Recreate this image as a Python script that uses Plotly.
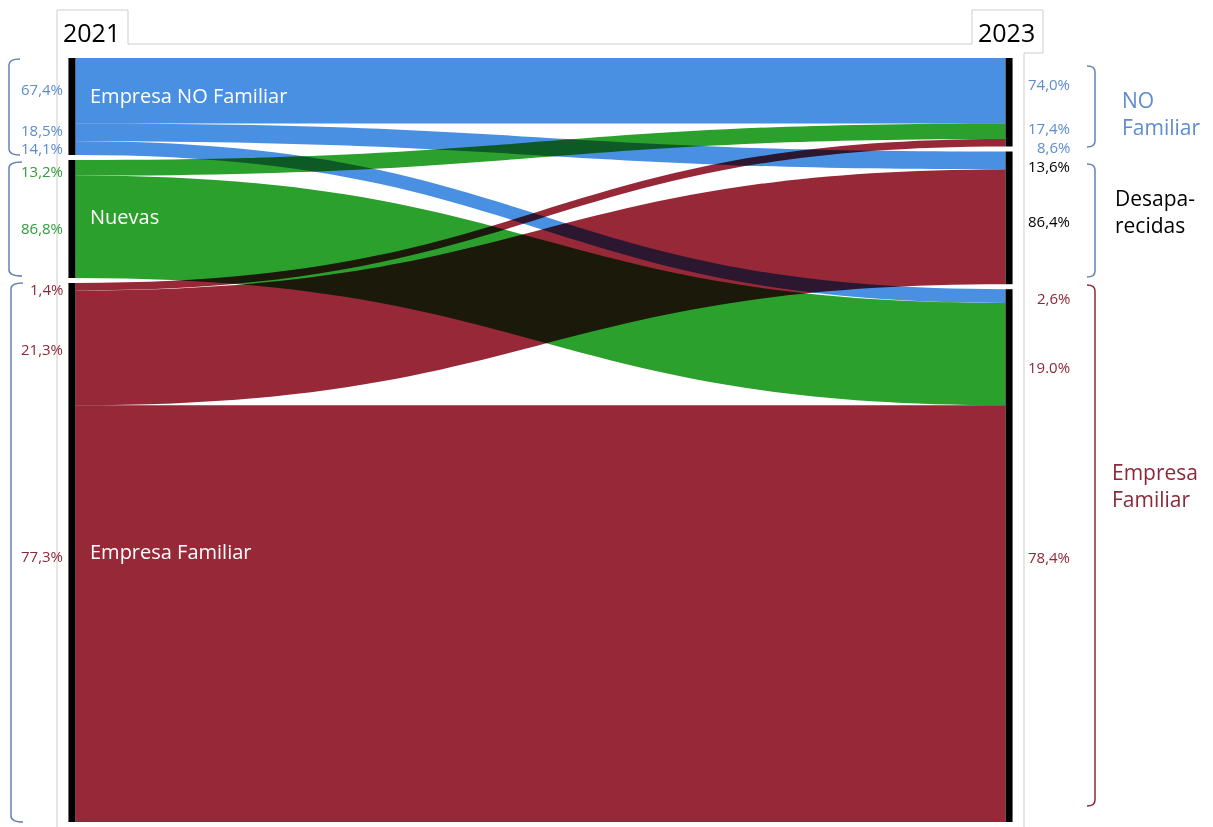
import plotly.graph_objects as go

W, H = 1213, 827

# ---------------- data ----------------
node_names = ["Empresa NO Familiar", "Nuevas", "Empresa Familiar",
              "NO Familiar", "Desaparecidas", "Empresa Familiar 2023"]
link_source = [0, 0, 0, 1, 1, 2, 2, 2]
link_target = [3, 4, 5, 3, 5, 3, 4, 5]
link_value = [65.4, 17.9, 13.7, 15.6, 102.4, 7.5, 114.8, 416.7]

left_pct_labels = ["67,4%", "18,5%", "14,1%", "13,2%", "86,8%", "1,4%", "21,3%", "77,3%"]
right_pct_labels = ["74,0%", "17,4%", "8,6%", "13,6%", "86,4%", "2,6%", "19.0%", "78,4%"]
year_labels = ["2021", "2023"]
group_labels = ["NO<br>Familiar", "Desapa-<br>recidas", "Empresa<br>Familiar"]

# ---------------- styles ----------------
BLUE = "rgb(74,144,226)"
GREEN = "rgb(44,160,44)"
RED = "rgb(150,40,55)"
src_colors = [BLUE, GREEN, RED]
link_colors = [src_colors[s] for s in link_source]

TXT_BLUE = "rgb(95,140,205)"
TXT_GREEN = "rgb(50,155,60)"
TXT_RED = "rgb(140,40,55)"
BR_BLUE = "rgb(100,130,180)"

def px(x):
    return x / W

def py(y):
    return 1 - y / H

# sankey domain in pixels
dom_x0, dom_x1 = 71, 1010
dom_y0, dom_y1 = 58, 822
dom_h = dom_y1 - dom_y0
pad = 5

# node vertical centres (layout only)
in_tot = [0.0] * 6
out_tot = [0.0] * 6
for s, t, v in zip(link_source, link_target, link_value):
    out_tot[s] += v
    in_tot[t] += v
node_vals = [max(a, b) for a, b in zip(in_tot, out_tot)]
total = sum(node_vals[:3])
ky = (dom_h - 2 * pad) / total

def centres(vals):
    res, cur = [], 0.0
    for v in vals:
        h = v * ky
        res.append((cur + h / 2) / dom_h)
        cur += h + pad
    return res

node_y = centres(node_vals[:3]) + centres(node_vals[3:])
node_x = [0.001] * 3 + [0.999] * 3

fig = go.Figure(go.Sankey(
    arrangement="fixed",
    domain=dict(x=[px(dom_x0), px(dom_x1)], y=[py(dom_y1), py(dom_y0)]),
    node=dict(label=[""] * 6, x=node_x, y=node_y, pad=pad, thickness=7,
              color="black", line=dict(width=0)),
    link=dict(source=link_source, target=link_target, value=link_value,
              color=link_colors, line=dict(width=0)),
))

ann = []
FONT = "Open Sans"

# node labels inside flows
for txt, y in [("Empresa NO Familiar", 96), ("Nuevas", 216), ("Empresa Familiar", 551)]:
    ann.append(dict(x=px(88), y=py(y), text=txt, showarrow=False, xanchor="left",
                    yanchor="middle", font=dict(family=FONT, size=20, color="white")))

# left percentages
left_y = [89, 130, 148, 171, 228, 289, 349, 556]
left_c = [TXT_BLUE] * 3 + [TXT_GREEN] * 2 + [TXT_RED] * 3
for t, y, c in zip(left_pct_labels, left_y, left_c):
    ann.append(dict(x=px(65), y=py(y), text=t, showarrow=False, xanchor="right",
                    yanchor="middle", font=dict(family=FONT, size=15, color=c)))

# right percentages
right_y = [84, 128, 147, 166, 221, 298, 367, 557]
right_c = [TXT_BLUE] * 3 + ["black"] * 2 + [TXT_RED] * 3
for t, y, c in zip(right_pct_labels, right_y, right_c):
    ann.append(dict(x=px(1072), y=py(y), text=t, showarrow=False, xanchor="right",
                    yanchor="middle", font=dict(family=FONT, size=15, color=c)))

# group labels on right
for t, x, y, c in zip(group_labels, [1120, 1113, 1110], [114, 211, 486],
                      [TXT_BLUE, "black", TXT_RED]):
    ann.append(dict(x=px(x), y=py(y), text=t, showarrow=False, xanchor="left",
                    yanchor="middle", align="left",
                    font=dict(family=FONT, size=21, color=c)))

# years
for t, x in zip(year_labels, [61, 976]):
    ann.append(dict(x=px(x), y=py(32), text=t, showarrow=False, xanchor="left",
                    yanchor="middle", font=dict(family=FONT, size=25, color="black")))

shapes = []
GRAY = "rgb(205,205,205)"

def seg(x0, y0, x1, y1, color=GRAY, w=1):
    shapes.append(dict(type="line", xref="paper", yref="paper",
                       x0=px(x0), y0=py(y0), x1=px(x1), y1=py(y1),
                       line=dict(color=color, width=w)))

# frame
seg(57, 10, 57, 827)
seg(57, 10, 128, 10)
seg(128, 10, 128, 44)
seg(128, 44, 972, 44)
seg(972, 10, 972, 44)
seg(972, 10, 1043, 10)
seg(1043, 10, 1043, 53)
seg(1024, 53, 1043, 53)
seg(1024, 53, 1024, 827)

def bracket(xv, xh, y0, y1, color):
    r = 6
    d = (f"M {px(xh)},{py(y0)} Q {px(xv)},{py(y0)} {px(xv)},{py(y0 + r)} "
         f"L {px(xv)},{py(y1 - r)} Q {px(xv)},{py(y1)} {px(xh)},{py(y1)}")
    shapes.append(dict(type="path", xref="paper", yref="paper", path=d,
                       line=dict(color=color, width=1.5)))

bracket(9, 20, 59, 155, BR_BLUE)
bracket(9, 22, 162, 276, BR_BLUE)
bracket(11, 23, 283, 822, BR_BLUE)
bracket(1095, 1087, 66, 147, BR_BLUE)
bracket(1095, 1087, 164, 277, BR_BLUE)
bracket(1095, 1087, 285, 806, TXT_RED)

fig.update_layout(width=W, height=H, margin=dict(l=0, r=0, t=0, b=0),
                  paper_bgcolor="white", plot_bgcolor="white",
                  annotations=ann, shapes=shapes, showlegend=False)

post = """
var gd = document.getElementById('{plot_id}');
function blend(){ gd.querySelectorAll('.sankey-link').forEach(function(p){ p.style.mixBlendMode = 'multiply'; }); }
blend();
gd.on('plotly_afterplot', blend);
setTimeout(blend, 50);
"""
fig.write_html("out.html", post_script=post)
